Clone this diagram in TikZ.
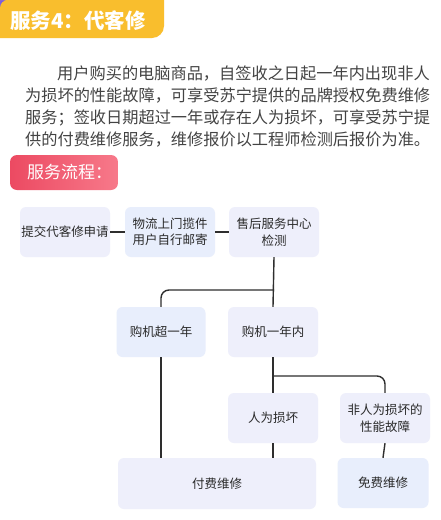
\documentclass[tikz,border=0pt]{standalone}
\usepackage{fontspec}
\setmainfont{Noto Sans CJK SC}
\definecolor{ttlyel}{HTML}{F9BE2D}
\definecolor{ttlpur}{HTML}{7B5CE0}
\definecolor{redL}{HTML}{EC4A62}
\definecolor{redR}{HTML}{F7798A}
\definecolor{bodytxt}{HTML}{434343}
\definecolor{boxtxt}{HTML}{2A2A2A}
\definecolor{boxA}{HTML}{EEEFFB}
\definecolor{boxB}{HTML}{E8EEFC}
\definecolor{linec}{HTML}{2E2E2E}
\tikzset{
  flowbox/.style={draw=none, rounded corners=6pt, text=boxtxt, align=center,
    inner sep=0pt, font=\fontsize{12.5}{16.5}\selectfont},
  para/.style={anchor=west, inner sep=0pt, text=bodytxt, font=\fontsize{16.2}{20}\selectfont},
  conn/.style={draw=linec, line width=1.4pt},
}
\begin{document}
\begin{tikzpicture}[x=1pt,y=-1pt]
\useasboundingbox (0,0) rectangle (441,520);
\fill[white] (0,0) rectangle (441,520);
% title banner
\fill[ttlpur] (0,0) rectangle (8,8);
\fill[ttlyel] (0,8) [rounded corners=8pt] -- (0,0) -- (8,0) [sharp corners] -- (164,0) [rounded corners=12pt] -- (164,38) [sharp corners] -- (0,38) -- cycle;
\node[anchor=west, inner sep=0pt, text=white, font=\fontsize{20.5}{21}\selectfont\bfseries] (title) at (10,21) {服务4：代客修};
% paragraph
\node[para] (p1) at (57,74) {用户购买的电脑商品，自签收之日起一年内出现非人};
\node[para] (p2) at (25,96) {为损坏的性能故障，可享受苏宁提供的品牌授权免费维修};
\node[para] (p3) at (25,118) {服务；签收日期超过一年或存在人为损坏，可享受苏宁提};
\node[para] (p4) at (25,140) {供的付费维修服务，维修报价以工程师检测后报价为准。};
% process label
\shade[left color=redL, right color=redR, rounded corners=7pt] (10,155) rectangle (118,190);
\node[anchor=west, inner sep=0pt, text=white, font=\fontsize{17}{18}\selectfont] (plabel) at (27,172) {服务流程：};
% boxes
\node[flowbox, fill=boxA, minimum width=90pt, minimum height=50pt] (c1) at (65,232) {提交代客修申请};
\node[flowbox, fill=boxB, minimum width=90pt, minimum height=50pt] (c2) at (170,232) {物流上门揽件\\用户自行邮寄};
\node[flowbox, fill=boxA, minimum width=90pt, minimum height=50pt] (c3) at (274,232) {售后服务中心\\检测};
\node[flowbox, fill=boxB, minimum width=89pt, minimum height=50pt] (c4) at (161,332) {购机超一年};
\node[flowbox, fill=boxA, minimum width=90pt, minimum height=50pt] (c5) at (273,332) {购机一年内};
\node[flowbox, fill=boxA, minimum width=90pt, minimum height=50pt] (c6) at (273,418) {人为损坏};
\node[flowbox, fill=boxA, minimum width=90pt, minimum height=50pt] (c7) at (385,418) {非人为损坏的\\性能故障};
\node[flowbox, fill=boxA, minimum width=198pt, minimum height=51pt] (c8) at (217,483.5) {付费维修};
\node[flowbox, fill=boxB, minimum width=91pt, minimum height=50pt] (c9) at (383,483) {免费维修};
% connectors
\draw[conn] (c1) -- (c2);
\draw[conn] (c2) -- (c3);
\coordinate (j1) at (274,290);
\coordinate (j2) at (274,376);
\draw[conn] (c3.south) -- (c5.north);
\draw[conn, rounded corners=8pt] (j1) -| (c4.north);
\draw[conn] (c5.south) -- (c6.north);
\draw[conn, rounded corners=8pt] (j2) -| (c7.north);
\draw[conn] (c4.south) -- (c4.south |- c8.north);
\draw[conn] (c6.south) -- (c6.south |- c8.north);
\draw[conn] (c7.south) -- (c9.north);
\end{tikzpicture}
\end{document}
